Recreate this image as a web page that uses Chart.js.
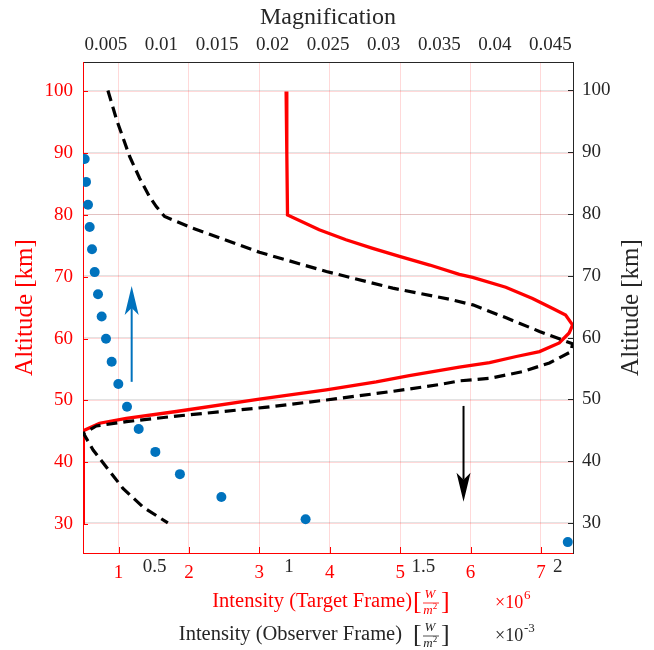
<!DOCTYPE html>
<html>
<head>
<meta charset="utf-8">
<title>Intensity and magnification against altitude</title>
<script src="https://cdn.jsdelivr.net/npm/chart.js@4.4.1/dist/chart.umd.min.js"></script>
<style>
  html, body { margin: 0; padding: 0; background: #fff; }
  canvas { display: block; }
</style>
</head>
<body>
<canvas id="myChart" width="654" height="650"></canvas>
<script>
// intensity in the target frame (x1e6 W/m^2), left altitude axis
const targetAlt = [100, 90, 80.0, 77.6, 76.0, 74.6, 73.3, 71.9, 70.4, 69.9, 68.3, 66.5, 64.9, 63.8, 62.2,
                   60.9, 59.3, 57.9, 57.1, 56.1, 55.4, 54.0, 53.0, 51.7, 50.2, 48.2, 47.1, 46.3, 45.1, 30.0];
const targetInt = [3.38, 3.39, 3.40, 3.85, 4.23, 4.61, 4.99, 5.42, 5.84, 6.03, 6.50, 6.88, 7.16, 7.35, 7.45,
                   7.40, 7.26, 6.98, 6.65, 6.27, 5.84, 5.13, 4.66, 3.95, 3.00, 1.82, 1.11, 0.73, 0.50, 0.50];

// intensity in the observer frame (x1e-3 W/m^2), right altitude axis
const observerAlt = [100, 95.3, 89.3, 85.8, 82.8, 81.2, 79.6, 77.7, 73.8, 70.7, 68.0, 66.2, 65.3, 63.2, 61.0,
                     59.6, 59.0, 57.7, 55.9, 54.5, 53.4, 53.0, 52.4, 51.3, 49.9, 48.7, 47.3, 46.4, 45.7, 44.5,
                     41.8, 35.6, 32.6, 30.0];
const observerInt = [0.326, 0.358, 0.407, 0.444, 0.481, 0.506, 0.537, 0.642, 0.890, 1.139, 1.386, 1.597, 1.684, 1.808, 1.932,
                     2.018, 2.055, 2.049, 1.969, 1.870, 1.746, 1.634, 1.560, 1.386, 1.139, 0.909, 0.581, 0.395, 0.283, 0.235,
                     0.271, 0.382, 0.456, 0.549];

// magnification (top axis)
const magAlt = [88.9, 85.2, 81.5, 77.9, 74.3, 70.6, 67.0, 63.4, 59.8, 56.1, 52.5, 48.8, 45.2, 41.5, 37.9, 34.2, 30.6, 26.9];
const magValue = [0.00309, 0.00321, 0.00339, 0.00354, 0.00375, 0.00399, 0.00429, 0.00462, 0.00501, 0.00552,
                  0.00612, 0.00690, 0.00795, 0.00945, 0.01166, 0.01539, 0.02297, 0.04656];

// tick labels
const altTicks = [30, 40, 50, 60, 70, 80, 90, 100];
const redTicks = [1, 2, 3, 4, 5, 6, 7];
const blackTicks = [0.5, 1, 1.5, 2];
const magTicks = [0.005, 0.01, 0.015, 0.02, 0.025, 0.03, 0.035, 0.04, 0.045];

// arrows
const upArrowMag = 0.00732;
const upArrowAlt = [53.0, 68.5];
const downArrowInt = 5.9;
const downArrowAlt = [49.1, 33.6];

const RED = '#ff0000';
const INK = '#262626';
const SERIF = '"Liberation Serif", "Times New Roman", serif';
Chart.defaults.font.family = SERIF;

function pairs(xs, ys) {
  return xs.map(function (v, i) { return { x: v, y: ys[i] }; });
}
function fixTicks(list) {
  return function (scale) { scale.ticks = list.map(function (v) { return { value: v }; }); };
}

function unitBracket(c, x, y, color) {
  c.fillStyle = color; c.strokeStyle = color;
  c.textBaseline = 'middle';
  c.textAlign = 'left';
  c.font = '26px ' + SERIF;
  c.fillText('[', x, y);
  c.fillText(']', x + 28, y);
  c.textAlign = 'center';
  c.font = 'italic 13px ' + SERIF;
  c.fillText('W', x + 17, y - 7);
  c.fillText('m', x + 15, y + 9);
  c.font = '9px ' + SERIF;
  c.fillText('2', x + 22, y + 5);
  c.lineWidth = 0.8;
  c.beginPath(); c.moveTo(x + 10, y + 1); c.lineTo(x + 26, y + 1); c.stroke();
}

function power(c, x, y, exp, color) {
  c.fillStyle = color;
  c.textAlign = 'left'; c.textBaseline = 'middle';
  c.font = '18px ' + SERIF;
  c.fillText('\u00d710', x, y + 1);
  c.font = '13px ' + SERIF;
  c.fillText(exp, x + 29, y - 6);
}

function arrow(c, x, y0, y1, color) {
  const dir = y1 < y0 ? -1 : 1;
  const L = 29, W = 7, N = 22;
  c.strokeStyle = color; c.fillStyle = color; c.lineWidth = 2;
  c.beginPath(); c.moveTo(x, y0); c.lineTo(x, y1 - dir * N); c.stroke();
  c.beginPath();
  c.moveTo(x, y1);
  c.lineTo(x - W, y1 - dir * L);
  c.lineTo(x, y1 - dir * N);
  c.lineTo(x + W, y1 - dir * L);
  c.closePath(); c.fill();
}

const decor = {
  id: 'decor',
  afterDraw: function (chart) {
    const c = chart.ctx;
    const a = chart.chartArea;
    const s = chart.scales;
    c.save();

    // inward tick marks
    c.lineWidth = 1;
    c.strokeStyle = RED;
    s.y.ticks.forEach(function (t) {
      const p = Math.round(s.y.getPixelForValue(t.value)) + 0.5;
      c.beginPath(); c.moveTo(a.left, p); c.lineTo(a.left + 5, p); c.stroke();
    });
    s.x.ticks.forEach(function (t) {
      const p = Math.round(s.x.getPixelForValue(t.value)) + 0.5;
      c.beginPath(); c.moveTo(p, a.bottom); c.lineTo(p, a.bottom - 6); c.stroke();
    });
    c.strokeStyle = INK;
    s.y2.ticks.forEach(function (t) {
      const p = Math.round(s.y2.getPixelForValue(t.value)) + 0.5;
      c.beginPath(); c.moveTo(a.right, p); c.lineTo(a.right - 5, p); c.stroke();
    });

    // arrows
    const ux = s.x3.getPixelForValue(upArrowMag);
    arrow(c, ux, s.y.getPixelForValue(upArrowAlt[0]), s.y.getPixelForValue(upArrowAlt[1]), '#0072bd');
    const dx = s.x.getPixelForValue(downArrowInt);
    arrow(c, dx, s.y.getPixelForValue(downArrowAlt[0]), s.y.getPixelForValue(downArrowAlt[1]), '#000000');

    // right axis title
    c.save();
    c.translate(631, (a.top + a.bottom) / 2);
    c.rotate(-Math.PI / 2);
    c.fillStyle = INK;
    c.textAlign = 'center'; c.textBaseline = 'middle';
    c.font = '25px ' + SERIF;
    c.fillText('Altitude [km]', 0, 0);
    c.restore();

    // bottom axis titles
    c.textBaseline = 'middle';
    c.textAlign = 'right';
    c.font = '20.5px ' + SERIF;
    c.fillStyle = RED;
    c.fillText('Intensity (Target Frame)', 412, 602);
    unitBracket(c, 413, 602, RED);
    power(c, 495, 602, '6', RED);

    c.textAlign = 'right';
    c.font = '20.5px ' + SERIF;
    c.fillStyle = INK;
    c.fillText('Intensity (Observer Frame)', 402, 635);
    unitBracket(c, 413, 635, INK);
    power(c, 495, 635, '-3', INK);

    c.restore();
  }
};

const ctx = document.getElementById('myChart').getContext('2d');
const chart = new Chart(ctx, {
  type: 'scatter',
  data: {
    datasets: [
      {
        label: 'Target frame',
        data: pairs(targetInt, targetAlt),
        xAxisID: 'x', yAxisID: 'y',
        showLine: true, borderColor: RED, borderWidth: 3.3,
        pointRadius: 0, order: 3
      },
      {
        label: 'Observer frame',
        data: pairs(observerInt, observerAlt),
        xAxisID: 'x2', yAxisID: 'y2',
        showLine: true, borderColor: '#000000', borderWidth: 3.2,
        borderDash: [11, 6], pointRadius: 0, order: 2
      },
      {
        label: 'Magnification',
        data: pairs(magValue, magAlt),
        xAxisID: 'x3', yAxisID: 'y2',
        showLine: false, pointRadius: 5, pointBorderWidth: 0,
        backgroundColor: '#0072bd', borderColor: '#0072bd', order: 1
      }
    ]
  },
  options: {
    responsive: false,
    animation: false,
    layout: { padding: 0 },
    plugins: { legend: { display: false }, tooltip: { enabled: false } },
    scales: {
      x: {
        type: 'linear', position: 'bottom', weight: 1,
        min: 0.495, max: 7.455,
        afterBuildTicks: fixTicks(redTicks),
        afterFit: function (s) { s.height = 97; },
        ticks: { color: RED, font: { size: 19 }, padding: 9, maxRotation: 0, autoSkip: false,
                 callback: function (v) { return String(v); } },
        grid: { color: 'rgba(255,0,0,0.15)', drawTicks: false },
        border: { color: RED, width: 1 }
      },
      x2: {
        // shares the strip under the plot with the red axis, so its labels are mirrored and pushed down
        type: 'linear', position: 'bottom', weight: 0,
        min: 0.2333, max: 2.0567,
        afterBuildTicks: fixTicks(blackTicks),
        afterFit: function (s) { s.height = 0; },
        ticks: { color: INK, font: { size: 19 }, mirror: true, padding: -25, maxRotation: 0, autoSkip: false,
                 callback: function (v) { return String(v); } },
        grid: { display: false, drawTicks: false },
        border: { display: false }
      },
      x3: {
        type: 'linear', position: 'top',
        min: 0.00294, max: 0.04703,
        afterBuildTicks: fixTicks(magTicks),
        afterFit: function (s) { s.height = 62; },
        ticks: { color: INK, font: { size: 19 }, padding: 6, maxRotation: 0, autoSkip: false,
                 callback: function (v) { return String(v); } },
        grid: { display: false, drawTicks: false },
        border: { color: INK, width: 1 },
        title: { display: true, text: 'Magnification', color: INK, font: { size: 24 }, padding: { top: 3, bottom: 0 } }
      },
      y: {
        type: 'linear', position: 'left',
        min: 25.3, max: 104.76,
        afterBuildTicks: fixTicks(altTicks),
        afterFit: function (s) { s.width = 83; },
        ticks: { color: RED, font: { size: 19 }, padding: 10, autoSkip: false },
        grid: { color: 'rgba(255,0,0,0.15)', drawTicks: false },
        border: { color: RED, width: 1 },
        title: { display: true, text: 'Altitude [km]', color: RED, font: { size: 25 }, padding: { top: 10, bottom: 0 } }
      },
      y2: {
        type: 'linear', position: 'right',
        min: 25.14, max: 104.6,
        afterBuildTicks: fixTicks(altTicks),
        afterFit: function (s) { s.width = 81; },
        ticks: { color: INK, font: { size: 19 }, padding: 9, autoSkip: false },
        grid: { color: 'rgba(38,38,38,0.13)', drawTicks: false },
        border: { color: INK, width: 1 }
      }
    }
  },
  plugins: [decor]
});
</script>
</body>
</html>
